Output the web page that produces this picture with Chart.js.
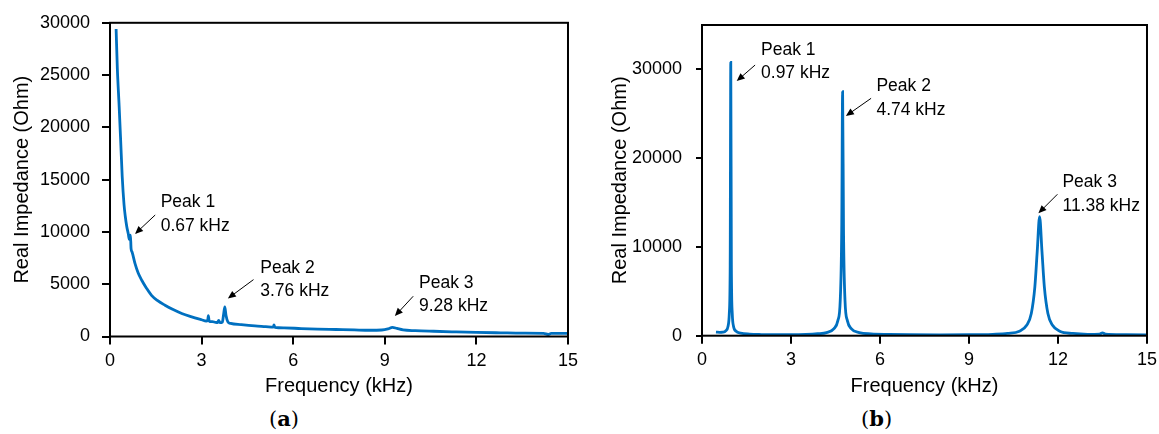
<!DOCTYPE html>
<html>
<head>
<meta charset="utf-8">
<script src="https://cdn.jsdelivr.net/npm/chart.js@4.4.0/dist/chart.umd.min.js"></script>
<style>
  body { margin: 0; background: #fff; width: 1159px; height: 434px; position: relative; overflow: hidden; }
  #chartA { position: absolute; left: 0; top: 0; }
  #chartB { position: absolute; left: 600px; top: 0; }
  .cap { position: absolute; top: 406px; font-family: "DejaVu Serif", "Liberation Serif", serif; font-size: 21px; color: #000; }
  .cap b { font-weight: bold; }
</style>
</head>
<body>
<canvas id="chartA" width="584" height="402"></canvas>
<canvas id="chartB" width="563" height="402"></canvas>
<div class="cap" style="left:269px">(<b>a</b>)</div>
<div class="cap" style="left:861px">(<b>b</b>)</div>
<script>
var freqA = [0.2, 0.24, 0.3, 0.35, 0.4, 0.46, 0.5, 0.55, 0.6, 0.63, 0.65, 0.67, 0.69, 0.72, 0.82, 0.92, 1.04, 1.2, 1.36, 1.55, 1.8, 2.05, 2.35, 2.65, 3.0,
             3.15, 3.2, 3.22, 3.25, 3.35, 3.45, 3.52, 3.56, 3.6, 3.68, 3.72, 3.76, 3.8, 3.86, 3.95, 4.3, 4.75, 5.1, 5.35, 5.37, 5.4, 5.7,
             6.26, 6.8, 7.4, 8.0, 8.5, 8.9, 9.1, 9.25, 9.4, 9.6, 10.0, 10.6, 11.2, 12.0, 12.8, 13.5, 14.2, 14.35, 14.45, 15.0];
var impA  = [29400, 25650, 22000, 18700, 15300, 12600, 11500, 10500, 9800, 9300, 9600, 9700, 8400, 8100, 6970, 6100, 5380, 4600, 3940, 3450, 2990, 2600, 2200, 1900, 1600,
             1480, 1520, 2000, 1450, 1420, 1360, 1320, 1550, 1320, 1380, 2100, 2830, 2000, 1400, 1250, 1130, 1010, 950, 900, 1100, 880, 830,
             760, 710, 670, 630, 600, 620, 720, 880, 770, 630, 560, 500, 450, 390, 350, 320, 300, 190, 290, 290];

// (b) simulated spectrum
var freqB = [0.47, 0.6, 0.7, 0.8, 0.88, 0.92, 0.95, 0.97, 0.99, 1.02, 1.06, 1.15, 1.3, 1.6, 2.0, 2.5, 3.0, 3.5, 3.9,
             4.2, 4.45, 4.58, 4.66, 4.71, 4.74, 4.77, 4.82, 4.9, 5.03, 5.3, 5.7, 6.3, 7.0, 8.0, 9.0, 9.8,
             10.3, 10.7, 10.95, 11.1, 11.22, 11.3, 11.38, 11.46, 11.54, 11.66, 11.81, 12.06, 12.5, 13.0, 13.4, 13.5, 13.6, 14.2, 15.0];
var impB  = [400, 380, 400, 550, 1100, 2500, 8000, 30800, 8000, 2500, 1100, 500, 300, 180, 130, 110, 110, 140, 220,
             350, 800, 1700, 4000, 12000, 27500, 12000, 4000, 1700, 800, 350, 200, 140, 110, 100, 110, 160,
             250, 500, 1200, 2500, 5500, 9500, 13400, 9500, 5500, 2500, 1200, 500, 250, 160, 180, 320, 170, 110, 90];

var xTicks = [0, 3, 6, 9, 12, 15];

// peak labels: [text x, text y] and arrow [from x, from y, to x, to y], all in data units
var peaksA = [
  { lines: ['Peak 1', '0.67 kHz'], at: [1.66, 12800], arrow: [1.48, 11620, 0.82, 9810] },
  { lines: ['Peak 2', '3.76 kHz'], at: [4.92, 6580], arrow: [4.70, 5440, 3.86, 3630] },
  { lines: ['Peak 3', '9.28 kHz'], at: [10.12, 5120], arrow: [9.93, 3850, 9.33, 1950] }
];
var peaksB = [
  { lines: ['Peak 1', '0.97 kHz'], at: [1.99, 32180], arrow: [1.79, 30490, 1.17, 28690] },
  { lines: ['Peak 2', '4.74 kHz'], at: [5.88, 28070], arrow: [5.70, 26740, 4.85, 24750] },
  { lines: ['Peak 3', '11.38 kHz'], at: [12.15, 17280], arrow: [11.98, 15930, 11.34, 13790] }
];

var FONT = '"Liberation Sans", Arial, sans-serif';
var BLUE = '#0070C0';

// box around the plot area
var frame = {
  id: 'frame',
  afterDraw: function (chart) {
    var a = chart.chartArea, ctx = chart.ctx;
    ctx.save();
    ctx.strokeStyle = '#000';
    ctx.lineWidth = 2;
    ctx.strokeRect(a.left, a.top, a.right - a.left, a.bottom - a.top);
    ctx.restore();
  }
};

// text + arrow for each peak
var annotate = {
  id: 'annotate',
  afterDatasetsDraw: function (chart, args, opts) {
    var ctx = chart.ctx, sx = chart.scales.x, sy = chart.scales.y;
    ctx.save();
    ctx.fillStyle = '#000';
    ctx.strokeStyle = '#000';
    ctx.font = '17.5px ' + FONT;
    ctx.textAlign = 'left';
    ctx.textBaseline = 'middle';
    opts.items.forEach(function (p) {
      var tx = sx.getPixelForValue(p.at[0]), ty = sy.getPixelForValue(p.at[1]);
      p.lines.forEach(function (s, i) { ctx.fillText(s, tx, ty + i * 23.5); });
      var x1 = sx.getPixelForValue(p.arrow[0]), y1 = sy.getPixelForValue(p.arrow[1]);
      var x2 = sx.getPixelForValue(p.arrow[2]), y2 = sy.getPixelForValue(p.arrow[3]);
      var ang = Math.atan2(y2 - y1, x2 - x1);
      ctx.lineWidth = 1;
      ctx.beginPath();
      ctx.moveTo(x1, y1);
      ctx.lineTo(x2 - 5 * Math.cos(ang), y2 - 5 * Math.sin(ang));
      ctx.stroke();
      ctx.beginPath();
      ctx.moveTo(x2, y2);
      ctx.lineTo(x2 - 8 * Math.cos(ang) + 3.5 * Math.sin(ang), y2 - 8 * Math.sin(ang) - 3.5 * Math.cos(ang));
      ctx.lineTo(x2 - 8 * Math.cos(ang) - 3.5 * Math.sin(ang), y2 - 8 * Math.sin(ang) + 3.5 * Math.cos(ang));
      ctx.closePath();
      ctx.fill();
    });
    ctx.restore();
  }
};

function makeChart(id, xs, ys, cfg) {
  var pts = xs.map(function (f, i) { return { x: f, y: ys[i] }; });
  return new Chart(document.getElementById(id), {
    type: 'line',
    data: {
      datasets: [{
        data: pts,
        borderColor: BLUE,
        borderWidth: 2.8,
        pointRadius: 0,
        fill: false,
        cubicInterpolationMode: 'monotone'
      }]
    },
    options: {
      responsive: false,
      animation: false,
      devicePixelRatio: 1,
      layout: { padding: cfg.padding },
      plugins: {
        legend: { display: false },
        tooltip: { enabled: false },
        annotate: { items: cfg.peaks }
      },
      scales: {
        x: {
          type: 'linear',
          min: 0, max: 15,
          afterBuildTicks: function (axis) { axis.ticks = xTicks.map(function (v) { return { value: v }; }); },
          afterFit: function (axis) { axis.height = cfg.xh; },
          ticks: { color: '#000', font: { family: FONT, size: 18 }, padding: 6, maxRotation: 0,
                   callback: function (v) { return String(v); } },
          grid: { drawOnChartArea: false, drawTicks: true, tickLength: 8, color: '#000', lineWidth: 2 },
          border: { display: false },
          title: { display: true, text: 'Frequency (kHz)', color: '#000', font: { family: FONT, size: 20 } }
        },
        y: {
          min: 0, max: cfg.ymax,
          afterBuildTicks: function (axis) { axis.ticks = cfg.yTicks.map(function (v) { return { value: v }; }); },
          afterFit: function (axis) { axis.width = cfg.yw; },
          ticks: { color: '#000', font: { family: FONT, size: 18 }, padding: cfg.ypad,
                   callback: function (v) { return String(v); } },
          grid: { drawOnChartArea: false, drawTicks: true, tickLength: cfg.ytl, color: '#000', lineWidth: 2 },
          border: { display: false },
          title: { display: true, text: 'Real Impedance (Ohm)', color: '#000', font: { family: FONT, size: 20 } }
        }
      }
    },
    plugins: [frame, annotate]
  });
}

makeChart('chartA', freqA, impA, {
  padding: { left: 6, top: 21, right: 9, bottom: 0 },
  xh: 65.5, yw: 104, ypad: 12, ytl: 8,
  ymax: 30000, yTicks: [0, 5000, 10000, 15000, 20000, 25000, 30000],
  peaks: peaksA
});

makeChart('chartB', freqB, impB, {
  padding: { left: 4, top: 25, right: 9, bottom: 0 },
  xh: 66.3, yw: 98, ypad: 14, ytl: 6,
  ymax: 35000, yTicks: [0, 10000, 20000, 30000],
  peaks: peaksB
});
</script>
</body>
</html>
